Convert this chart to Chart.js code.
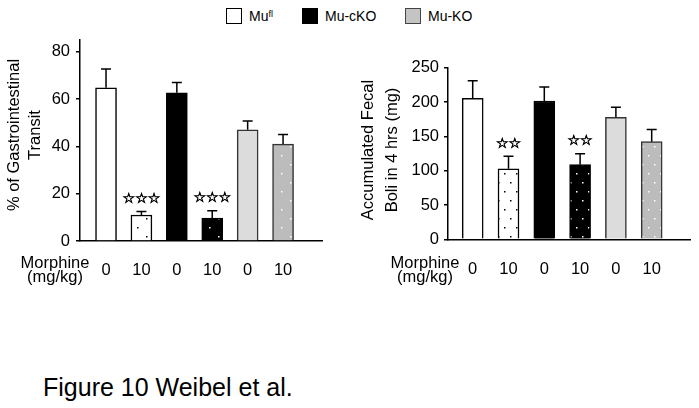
<!DOCTYPE html>
<html lang="en">
<head>
  <meta charset="UTF-8">
  <title>Figure 10</title>
  <script src="https://cdn.jsdelivr.net/npm/chart.js"></script>
  <style>
    body { margin: 0; background: #fff; font-family: "Liberation Sans", Arial, sans-serif; }
    #page { position: relative; width: 699px; height: 408px; overflow: hidden; }
    .box { position: absolute; }
    .legend { position: absolute; top: 8px; font-size: 14px; color: #000; display: flex; align-items: center; }
    .legend i { display: inline-block; width: 14px; height: 14px; border: 1px solid #000; margin-right: 7px; }
    .legend sup { font-size: 9px; position: relative; top: -2px; }
    #footer { position: absolute; left: 43px; top: 373px; font-size: 25px; color: #000; }
  </style>
</head>
<body>
<div id="page">
  <div class="legend" style="left:226px"><i style="background:#fff"></i>Mu<sup>fl</sup></div>
  <div class="legend" style="left:302px"><i style="background:#000"></i>Mu-cKO</div>
  <div class="legend" style="left:405px"><i style="background:#c4c4c4;border-color:#444"></i>Mu-KO</div>

  <div class="box" style="left:0;top:0;width:345px;height:300px"><canvas id="transitChart"></canvas></div>
  <div class="box" style="left:340px;top:0;width:359px;height:300px"><canvas id="boliChart"></canvas></div>

  <div id="footer">Figure 10 Weibel et al.</div>
</div>

<script>
// data
const doseLabels = ["0", "10", "0", "10", "0", "10"];
const transitMean = [64.8, 11, 62.7, 9.7, 47, 41];
const transitErr = [7.9, 1.5, 4.3, 3.1, 3.7, 4];
const transitStars = ["", "☆☆☆", "", "☆☆☆", "", ""];
const transitTicks = [0, 20, 40, 60, 80];
const boliMean = [205.4, 102.8, 201.5, 108.7, 177.7, 142.2];
const boliErr = [25.6, 18.2, 20.5, 16, 14.6, 17.8];
const boliStars = ["", "☆☆", "", "☆☆", "", ""];
const boliTicks = [0, 50, 100, 150, 200, 250];

const FONT = "Liberation Sans, Arial, sans-serif";

function dots(bg, dot, w, h) {
  const c = document.createElement("canvas");
  c.width = w; c.height = h;
  const g = c.getContext("2d");
  g.fillStyle = bg; g.fillRect(0, 0, w, h);
  g.fillStyle = dot;
  g.fillRect(2, 2, 1.5, 1.5);
  g.fillRect(2 + w / 2, 2 + h / 2, 1.5, 1.5);
  return g.createPattern(c, "repeat");
}

function fills(w, h) {
  return ["#ffffff", dots("#ffffff", "#000", w, h), "#000000",
          dots("#000000", "#fff", w, h), "#dcdcdc", dots("#bcbcbc", "#fff", w, h)];
}
const borders = ["#000", "#000", "#000", "#000", "#333", "#333"];

// upper error bars, significance stars, axis titles
const errorPlugin = {
  id: "errors",
  afterDatasetsDraw(chart, args, opts) {
    const ctx = chart.ctx;
    const y = chart.scales.y;
    const meta = chart.getDatasetMeta(0);
    ctx.save();
    ctx.strokeStyle = "#000";
    ctx.lineWidth = 1.5;
    meta.data.forEach((bar, i) => {
      const v = opts.mean[i], top = y.getPixelForValue(v + opts.err[i]);
      ctx.beginPath();
      ctx.moveTo(bar.x, y.getPixelForValue(v));
      ctx.lineTo(bar.x, top);
      ctx.moveTo(bar.x - 5, top);
      ctx.lineTo(bar.x + 5, top);
      ctx.stroke();
      if (opts.stars[i]) {
        ctx.save();
        ctx.fillStyle = "#000";
        ctx.lineWidth = 0.7;
        ctx.font = "14px DejaVu Sans";
        ctx.textAlign = "center";
        ctx.textBaseline = "middle";
        ctx.fillText(opts.stars[i], bar.x, top - 12);
        ctx.strokeText(opts.stars[i], bar.x, top - 12);
        ctx.restore();
      }
    });
    ctx.fillStyle = "#000";
    ctx.font = "16.5px " + FONT;
    ctx.textAlign = "center";
    ctx.textBaseline = "alphabetic";
    ctx.fillText("Morphine", opts.labelX, 267.5);
    ctx.fillText("(mg/kg)", opts.labelX, 282);
    // rotated y title, two lines
    ctx.textBaseline = "middle";
    opts.title.forEach((line, k) => {
      ctx.save();
      ctx.translate(opts.titleX[k], opts.titleY);
      ctx.rotate(-Math.PI / 2);
      ctx.fillText(line, 0, 0);
      ctx.restore();
    });
    ctx.restore();
  }
};

function makeChart(id, mean, err, stars, ticks, cfg) {
  new Chart(document.getElementById(id), {
    type: "bar",
    data: {
      datasets: [{
        data: mean.map((v, i) => ({ x: i + 1, y: v })),
        backgroundColor: fills(cfg.patW, cfg.patH),
        borderColor: borders,
        borderWidth: 1.5,
        barThickness: 21
      }]
    },
    plugins: [errorPlugin],
    options: {
      responsive: true,
      maintainAspectRatio: false,
      animation: false,
      layout: { padding: { top: cfg.top, right: cfg.right, left: 0, bottom: 0 } },
      plugins: {
        legend: { display: false },
        tooltip: { enabled: false },
        errors: { mean, err, stars, labelX: cfg.labelX, title: cfg.title, titleX: cfg.titleX, titleY: cfg.titleY }
      },
      scales: {
        x: {
          type: "linear",
          offset: false,
          min: cfg.xMin, max: cfg.xMax,
          afterBuildTicks: s => { s.ticks = doseLabels.map((_, i) => ({ value: i + 1 })); },
          afterFit: s => { s.height = cfg.xHeight; },
          grid: { display: false },
          border: { display: true, color: "#000", width: 1.5 },
          ticks: {
            autoSkip: false, maxRotation: 0, padding: 12,
            color: "#000", font: { family: FONT, size: 16.5 },
            callback: v => doseLabels[v - 1]
          }
        },
        y: {
          min: 0, max: cfg.yMax,
          afterBuildTicks: s => { s.ticks = ticks.map(v => ({ value: v })); },
          afterFit: s => { s.width = cfg.yWidth; },
          grid: { drawOnChartArea: false, drawTicks: true, tickLength: 4, color: "#000", lineWidth: 1.5 },
          border: { display: true, color: "#000", width: 1.5 },
          ticks: { padding: cfg.tickPad, color: "#000", font: { family: FONT, size: 16.5 } }
        }
      }
    }
  });
}

makeChart("transitChart", transitMean, transitErr, transitStars, transitTicks, {
  top: 40, right: 23, xHeight: 59, yWidth: 80, yMax: 85, xMin: 0.265, xMax: 7.1,
  tickPad: 6, title: ["% of Gastrointestinal", "Transit"], titleX: [14, 35], titleY: 135,
  labelX: 55, patW: 18, patH: 18
});
makeChart("boliChart", boliMean, boliErr, boliStars, boliTicks, {
  top: 67.7, right: 9, xHeight: 60.7, yWidth: 108, yMax: 250, xMin: 0.31, xMax: 7.07,
  tickPad: 5, title: ["Accumulated Fecal", "Boli in 4 hrs (mg)"], titleX: [28, 52], titleY: 150,
  labelX: 85, patW: 12, patH: 18
});
</script>
</body>
</html>
